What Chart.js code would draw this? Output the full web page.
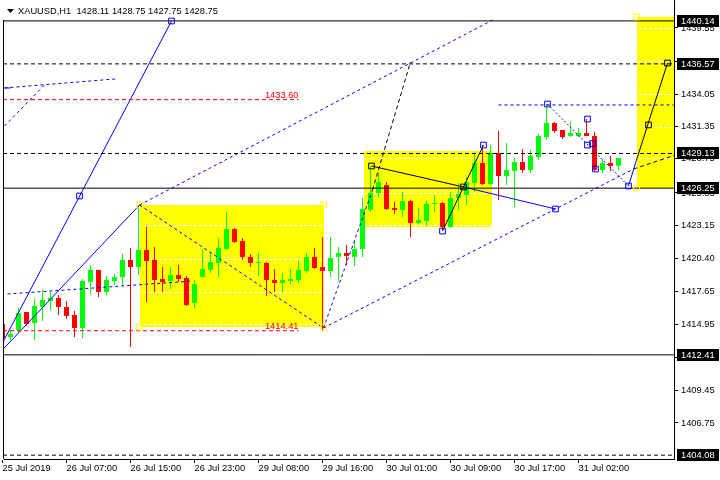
<!DOCTYPE html>
<html>
<head>
<meta charset="utf-8">
<title>XAUUSD H1</title>
<script src="https://cdn.jsdelivr.net/npm/chart.js@4.4.1/dist/chart.umd.min.js"></script>
<style>
  html, body { margin:0; padding:0; background:#fff; }
  #wrap { width:720px; height:480px; }
</style>
</head>
<body>
<div id="wrap"><canvas id="chart" width="720" height="480"></canvas></div>
<script>

// ================= DATA =================
const chartTitle = "XAUUSD,H1  1428.11 1428.75 1427.75 1428.75";

const opens = [
  1414.97,1413.89,1414.47,1415.97,1415.05,1416.38,1416.88,1417.13,1416.38,1415.72,
  1414.64,1418.46,1419.46,1417.63,1418.54,1418.87,1420.29,1419.70,1421.12,1420.29,
  1418.71,1418.54,1419.04,1418.79,1416.72,1418.87,1419.46,1420.04,1421.20,1422.86,
  1421.86,1420.54,1420.04,1420.04,1418.63,1418.38,1418.54,1418.63,1419.37,1420.54,
  1419.70,1419.37,1420.54,1420.87,1420.54,1421.20,1424.44,1425.85,1426.51,1424.60,
  1424.44,1425.18,1423.36,1423.52,1424.94,1425.02,1423.03,1425.43,1425.68,1426.68,
  1428.34,1426.60,1429.17,1427.26,1427.68,1428.42,1427.76,1428.84,1430.50,1431.66,
  1431.08,1430.58,1430.58,1430.83,1430.58,1427.76,1428.34,1428.11
];
const highs = [
  1415.14,1414.47,1416.30,1415.97,1417.05,1417.80,1417.63,1417.38,1416.88,1416.05,
  1418.71,1419.87,1419.46,1418.96,1419.12,1420.78,1421.28,1424.85,1423.03,1421.37,
  1419.70,1419.70,1419.87,1418.96,1418.63,1421.12,1420.95,1422.11,1424.27,1422.94,
  1422.11,1420.78,1420.87,1420.12,1419.54,1419.21,1419.54,1420.20,1420.87,1421.28,
  1422.20,1422.20,1421.37,1421.53,1421.95,1425.43,1428.09,1427.51,1426.76,1425.10,
  1425.93,1425.27,1424.60,1425.18,1425.68,1425.10,1425.93,1426.68,1427.18,1429.17,
  1429.83,1429.83,1431.00,1430.00,1428.75,1429.50,1429.42,1430.75,1433.24,1431.74,
  1431.08,1431.74,1431.25,1431.99,1430.91,1428.67,1428.92,1428.75
];
const lows = [
  1413.48,1413.64,1414.22,1414.81,1413.64,1415.22,1416.13,1415.72,1415.39,1413.89,
  1413.81,1417.46,1417.21,1417.38,1418.21,1418.21,1413.06,1419.04,1416.80,1417.63,
  1417.63,1417.88,1418.46,1416.47,1416.30,1418.87,1419.21,1418.87,1421.12,1421.70,
  1420.29,1419.70,1418.96,1417.30,1417.63,1417.63,1418.29,1418.38,1419.21,1419.54,
  1414.41,1418.87,1418.54,1419.87,1419.79,1420.54,1424.27,1425.52,1424.44,1424.10,
  1423.86,1422.20,1423.28,1423.11,1424.27,1422.78,1422.94,1424.44,1424.85,1425.93,
  1426.51,1426.51,1425.27,1426.51,1424.69,1427.51,1427.51,1428.59,1430.25,1430.83,
  1430.33,1430.50,1430.50,1430.58,1427.68,1427.51,1427.68,1427.75
];
const closes = [
  1413.81,1414.14,1415.89,1414.97,1416.47,1416.96,1417.13,1416.38,1415.64,1414.64,
  1418.54,1419.46,1417.63,1418.63,1418.87,1420.29,1419.70,1421.12,1420.20,1418.63,
  1418.46,1419.04,1418.71,1416.55,1418.29,1419.54,1420.12,1421.28,1422.86,1421.78,
  1420.54,1420.04,1420.12,1418.63,1418.38,1418.63,1418.71,1419.46,1420.54,1419.62,
  1419.37,1420.45,1420.87,1420.62,1421.20,1424.52,1425.85,1426.76,1424.52,1424.44,
  1425.18,1423.36,1423.61,1424.94,1425.02,1423.03,1425.43,1425.77,1426.76,1428.34,
  1426.60,1429.17,1427.26,1427.76,1428.42,1427.76,1428.92,1430.58,1431.66,1431.00,
  1430.50,1430.83,1430.83,1430.58,1427.76,1428.34,1428.09,1428.75
];

const xTickIdx = [0, 8, 16, 24, 32, 40, 48, 56, 64, 72];
const xTickLabels = ["25 Jul 2019","26 Jul 07:00","26 Jul 15:00","26 Jul 23:00","29 Jul 08:00",
                     "29 Jul 16:00","30 Jul 01:00","30 Jul 09:00","30 Jul 17:00","31 Jul 02:00"];
const yTicks = [1406.75,1409.45,1412.20,1414.95,1417.65,1420.40,1423.15,1425.85,1428.75,1431.35,1434.05,1436.80,1439.55];

const xMin = 0.1875, xMax = 83.9375;
const yMin = 1403.76, yMax = 1441.875;

// ================= OBJECTS (bar index, price) =================
const solidLevels = [1440.14, 1426.25, 1412.41];
const dashedLevels = [1436.57, 1429.13, 1404.08];
const redLevels = [1433.60, 1414.41];
const redLevelEnd = 37;
const priceTags = [1440.14, 1436.57, 1429.13, 1426.25, 1412.41, 1404.08];

// [fromIndex, toIndex, topPrice, bottomPrice]
const zones = [
  [17.125, 40.125, 1424.85, 1414.72],
  [45.125, 61.125, 1429.34, 1423.03],
  [79.25, 86, 1440.46, 1426.26]
];

const blueSolidLines = [
  [[-0.25,1434.57],[1,1434.57]],
  [[0,1413.39],[21.125,1440.13]],
  [[-0.25,1412.65],[17.125,1424.85]],
  [[57.625,1426.35],[69.125,1424.52]],
  [[78.25,1426.43],[79.25,1428.59]]
];
const blueDotLines = [
  [[68.125,1433.24],[78.25,1426.43]]
];
const blueDashedLines = [
  [[17.125,1424.85],[61.25,1440.21]],
  [[17.125,1424.85],[40.125,1414.64]],
  [[0.625,1417.46],[23.75,1418.54]],
  [[0.25,1434.57],[14.125,1435.32]],
  [[0.25,1431.41],[5.25,1434.82]],
  [[40.125,1414.64],[46.25,1426.10]],
  [[40.125,1414.64],[78.875,1427.84]],
  [[62,1433.16],[86,1433.16]]
];
const blackSolidLines = [
  [[46.125,1428.09],[57.625,1426.35]],
  [[55,1422.69],[60.125,1429.83]],
  [[79.25,1428.59],[83.125,1436.64]]
];
const blackDashedLines = [
  [[46.25,1426.10],[51,1436.73]],
  [[78.875,1427.84],[86,1429.42]]
];

const blueSquares = [
  [21.125,1440.13],[9.625,1425.60],[69.125,1424.52],[55,1422.69],[60.125,1429.83],
  [68.125,1433.24],[73.125,1431.99],[73.125,1429.83],[73.75,1429.95],[74.125,1427.84],[78.25,1426.43]
];
const blackSquares = [[46.125,1428.09],[57.625,1426.35],[80.75,1431.50],[83.125,1436.64]];
const yellowSquares = [[17.125,1424.85],[40.125,1424.85],[17.125,1414.72],[40.125,1414.72],[79.25,1440.46],[79.25,1426.26]];


// ================= STYLE =================
const BULL = "#00ff00";
const BEAR = "#ff0000";
const FONT = "Liberation Sans";

Chart.defaults.font.family = FONT;
Chart.defaults.font.size = 9.3;
Chart.defaults.color = "#000";


// ================= DATASETS =================
function candleColors(){
  return opens.map((o,i) => closes[i] >= o ? BULL : BEAR);
}

function segment(pts, color, dash){
  return {
    type: "line",
    data: pts.map(p => ({ x: p[0], y: p[1] })),
    borderColor: color,
    borderWidth: 1,
    borderDash: dash,
    pointRadius: 0,
    fill: false,
    tension: 0,
    order: 1
  };
}

function squares(pts, color){
  return {
    type: "line",
    data: pts.map(p => ({ x: p[0], y: p[1] })),
    showLine: false,
    pointStyle: "rect",
    pointRadius: 4,
    pointBorderWidth: 1,
    pointBorderColor: color,
    pointBackgroundColor: "rgba(0,0,0,0)",
    order: 0
  };
}

function buildDatasets(){

  const colors = candleColors();
  const sets = [];

  sets.push({
    type: "bar",
    data: lows.map((l,i) => ({ x: i, y: [l, highs[i]] })),
    backgroundColor: colors,
    barThickness: 1,
    grouped: false,
    inflateAmount: 0,
    order: 3
  });

  sets.push({
    type: "bar",
    data: opens.map((o,i) => ({ x: i, y: [o, closes[i]] })),
    backgroundColor: colors,
    barThickness: 5,
    minBarLength: 1,
    grouped: false,
    inflateAmount: 0,
    order: 2
  });

  solidLevels.forEach(v => sets.push(segment([[xMin-1,v],[xMax+2,v]], "#000", [])));
  dashedLevels.forEach(v => sets.push(segment([[xMin-1,v],[xMax+2,v]], "#000", [4,3])));
  redLevels.forEach(v => sets.push(segment([[xMin-1,v],[redLevelEnd,v]], "#ff0000", [4,3])));

  blueSolidLines.forEach(s => sets.push(segment(s, "#0000ff", [])));
  blueDotLines.forEach(s => sets.push(segment(s, "#0000ff", [2,2])));
  blueDashedLines.forEach(s => sets.push(segment(s, "#0000ff", [3,3])));
  blackSolidLines.forEach(s => sets.push(segment(s, "#000", [])));
  blackDashedLines.forEach(s => sets.push(segment(s, "#000", [4,3])));

  sets.push(squares(blueSquares, "#0000ff"));
  sets.push(squares(blackSquares, "#000"));
  sets.push(squares(yellowSquares, "#ffff00"));

  return sets;
}


// ================= PLUGIN =================
const terminalPlugin = {
  id: "terminal",

  beforeDatasetsDraw(chart){
    const { ctx, chartArea: a, scales: { x, y } } = chart;
    ctx.save();
    ctx.beginPath();
    ctx.rect(a.left, a.top, a.right - a.left, a.bottom - a.top);
    ctx.clip();

    // rectangles in background
    ctx.fillStyle = "#ffff00";
    zones.forEach(z => {
      const l = Math.round(x.getPixelForValue(z[0]));
      const r = Math.round(x.getPixelForValue(z[1]));
      const t = Math.round(y.getPixelForValue(z[2]));
      const b = Math.round(y.getPixelForValue(z[3]));
      ctx.fillRect(l, t, r - l, b - t);
    });

    // white dashed grid (only shows on the yellow)
    ctx.strokeStyle = "#ffffff";
    ctx.lineWidth = 1;
    ctx.setLineDash([3,2]);
    yTicks.forEach(v => {
      const py = Math.round(y.getPixelForValue(v)) + 0.5;
      ctx.beginPath();
      ctx.moveTo(a.left, py);
      ctx.lineTo(a.right, py);
      ctx.stroke();
    });
    ctx.restore();
  },

  afterDatasetsDraw(chart){
    const { ctx, scales: { x, y } } = chart;
    ctx.save();
    ctx.font = "9.3px '" + FONT + "'";
    ctx.fillStyle = "#ff0000";
    ctx.textAlign = "right";
    ctx.textBaseline = "alphabetic";
    redLevels.forEach(v => {
      ctx.fillText(v.toFixed(2), x.getPixelForValue(redLevelEnd), y.getPixelForValue(v) - 1.5);
    });
    ctx.restore();
  },

  afterDraw(chart){
    const { ctx, chartArea: a, scales: { y } } = chart;
    ctx.save();

    // left frame
    ctx.strokeStyle = "#000";
    ctx.lineWidth = 1;
    ctx.beginPath();
    ctx.moveTo(a.left - 0.5, 20);
    ctx.lineTo(a.left - 0.5, a.bottom);
    ctx.stroke();

    // symbol line
    ctx.fillStyle = "#000";
    ctx.beginPath();
    ctx.moveTo(7, 9);
    ctx.lineTo(14, 9);
    ctx.lineTo(10.5, 13);
    ctx.closePath();
    ctx.fill();
    ctx.font = "9.3px '" + FONT + "'";
    ctx.textAlign = "left";
    ctx.textBaseline = "alphabetic";
    ctx.fillText(chartTitle, 18, 14);

    // price tags
    ctx.textBaseline = "middle";
    priceTags.forEach(v => {
      const py = Math.round(y.getPixelForValue(v));
      ctx.fillStyle = "#000";
      ctx.fillRect(a.right + 3, py - 6, 42, 12);
      ctx.fillStyle = "#fff";
      ctx.fillText(v.toFixed(2), a.right + 7, py + 0.5);
    });

    ctx.restore();
  }
};


// ================= CHART =================
window.onload = () => {

  new Chart(document.getElementById("chart"), {
    type: "bar",
    data: { datasets: buildDatasets() },
    options: {
      responsive: false,
      animation: false,
      events: [],
      layout: { autoPadding: false, padding: { left: 4, right: 0, top: 0, bottom: 0 } },
      plugins: {
        legend: { display: false },
        tooltip: { enabled: false },
        title: { display: false }
      },
      scales: {
        x: {
          type: "linear",
          min: xMin,
          max: xMax,
          offset: false,
          afterBuildTicks: s => { s.ticks = xTickIdx.map(v => ({ value: v })); },
          afterFit: s => { s.height = 21; s.paddingLeft = 0; s.paddingRight = 0; },
          grid: { offset: false, drawOnChartArea: false, drawTicks: true, tickLength: 4, color: "#000" },
          border: { display: true, color: "#000" },
          ticks: {
            autoSkip: false,
            maxRotation: 0,
            align: "start",
            padding: 0,
            color: "#000",
            callback: v => {
              const k = xTickIdx.indexOf(v);
              return k < 0 ? "" : xTickLabels[k];
            }
          }
        },
        y: {
          position: "right",
          min: yMin,
          max: yMax,
          afterBuildTicks: s => { s.ticks = yTicks.map(v => ({ value: v })); },
          afterFit: s => { s.width = 46; s.paddingTop = 0; s.paddingBottom = 0; },
          grid: { drawOnChartArea: false, drawTicks: true, tickLength: 4, color: "#000" },
          border: { display: true, color: "#000" },
          ticks: {
            autoSkip: false,
            padding: 3,
            color: "#000",
            callback: v => Number(v).toFixed(2)
          }
        }
      }
    },
    plugins: [terminalPlugin]
  });

};
</script>
</body>
</html>
